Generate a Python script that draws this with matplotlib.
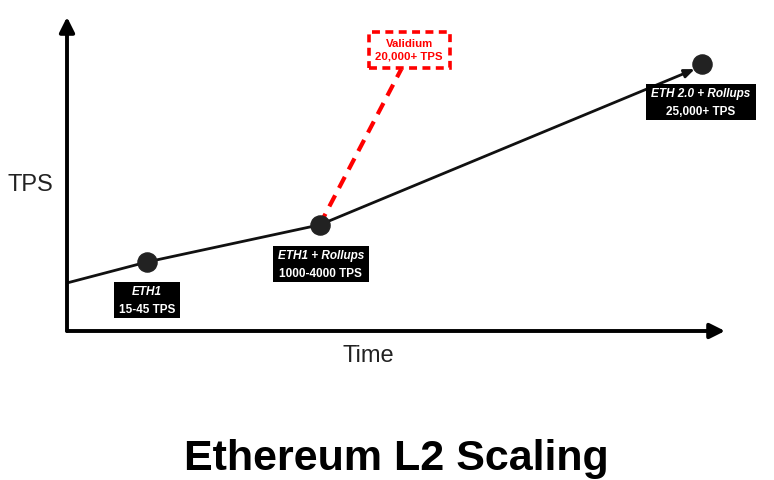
import matplotlib.pyplot as plt
from matplotlib.patches import Rectangle
from matplotlib.transforms import Bbox, IdentityTransform

# Milestones on a unitless time / TPS scale (0-100 both ways)
stageNames = ["ETH1", "ETH1 + Rollups", "ETH 2.0 + Rollups"]
stageTps = ["15-45 TPS", "1000-4000 TPS", "25,000+ TPS"]
stageTime = [12.2, 38.4, 96.5]
stageLevel = [22.0, 33.8, 85.0]

# Where the growth line starts on the TPS axis
startTime = 0.0
startLevel = 15.3

# Validium branch
validiumName = "Validium"
validiumTps = "20,000+ TPS"
validiumTime = 50.8
validiumLevel = 83.4

# Label offsets (in axis units) from each point
labelOffsets = [(0.0, -12.0), (0.15, -12.6), (-0.15, -12.2)]
validiumOffset = (1.2, 6.2)

fontFamily = ["Liberation Sans", "DejaVu Sans"]
plt.rcParams["font.family"] = fontFamily

W, H = 774, 481
fig = plt.figure(figsize=(W / 100, H / 100), dpi=100)

# Axes placed so the drawn axis lines match the picture
left, bottom, right, top = 67, 332, 725, 18
ax = fig.add_axes([left / W, 1 - bottom / H, (right - left) / W, (bottom - top) / H])
ax.set_xlim(0, 100)
ax.set_ylim(0, 100)
ax.axis("off")

# Axis arrows
arrowStyle = dict(arrowstyle="-|>,head_length=0.9,head_width=0.45", color="black", lw=2.8, shrinkA=0, shrinkB=0)
ax.annotate("", xy=(0, 100), xytext=(0, 0), arrowprops=arrowStyle, annotation_clip=False)
ax.annotate("", xy=(100, 0), xytext=(0, 0), arrowprops=arrowStyle, annotation_clip=False)

# Growth line up to the last stage
lineX = [startTime] + stageTime[:2]
lineY = [startLevel] + stageLevel[:2]
ax.plot(lineX, lineY, color="#111111", lw=2, solid_capstyle="butt", zorder=2)
ax.annotate("", xy=(stageTime[2] - 1.1, stageLevel[2] - 1.6), xytext=(stageTime[1], stageLevel[1]),
            arrowprops=dict(arrowstyle="-|>,head_length=0.6,head_width=0.25", color="#111111", lw=2,
                            shrinkA=0, shrinkB=0), zorder=2)

# Validium dashed branch
ax.plot([stageTime[1], validiumTime], [stageLevel[1], validiumLevel], color="#ff0000", lw=3,
        dashes=(3, 2), zorder=1)

# Milestone dots
ax.scatter(stageTime, stageLevel, s=190, color="#222222", zorder=3)

# Two white lines per label; the black box is sized to them after a draw
labelPairs = []
for name, tps, x, y, (dx, dy) in zip(stageNames, stageTps, stageTime, stageLevel, labelOffsets):
    cx, cy = x + dx, y + dy
    t1 = ax.text(cx, cy + 2.85, name, ha="center", va="center", fontsize=8.5, fontweight="bold",
                 fontstyle="italic", color="white", zorder=5)
    t2 = ax.text(cx, cy - 2.85, tps, ha="center", va="center", fontsize=8.5, fontweight="bold",
                 color="white", zorder=5)
    labelPairs.append((t1, t2))

# Validium label with red dashed frame
ax.text(validiumTime + validiumOffset[0], validiumLevel + validiumOffset[1], validiumName + "\n" + validiumTps,
        ha="center", va="center", fontsize=8.2, fontweight="bold", color="#ff0000", linespacing=1.3,
        bbox=dict(boxstyle="square,pad=0.6", fc="white", ec="#ff0000", lw=2.6, ls=(0, (2.2, 1.5))), zorder=4)

# Axis titles
fig.text(30 / W, 1 - 185 / H, "TPS", ha="center", va="center", fontsize=17, color="#222222")
fig.text(368 / W, 1 - 356 / H, "Time", ha="center", va="center", fontsize=17, color="#222222")

# Chart title
fig.text(396 / W, 1 - 470 / H, "Ethereum L2 Scaling", ha="center", va="baseline", fontsize=31,
         fontweight="bold", color="black")

# Black boxes behind the milestone labels
fig.canvas.draw()
renderer = fig.canvas.get_renderer()
padX, padY = 5, 3
for t1, t2 in labelPairs:
    box = Bbox.union([t1.get_window_extent(renderer), t2.get_window_extent(renderer)])
    rect = Rectangle((box.x0 - padX, box.y0 - padY), box.width + 2 * padX, box.height + 2 * padY,
                     transform=IdentityTransform(), facecolor="black", edgecolor="none", zorder=4)
    ax.add_artist(rect)
    rect.set_clip_on(False)

fig.savefig("out.png", dpi=100, facecolor="white")
